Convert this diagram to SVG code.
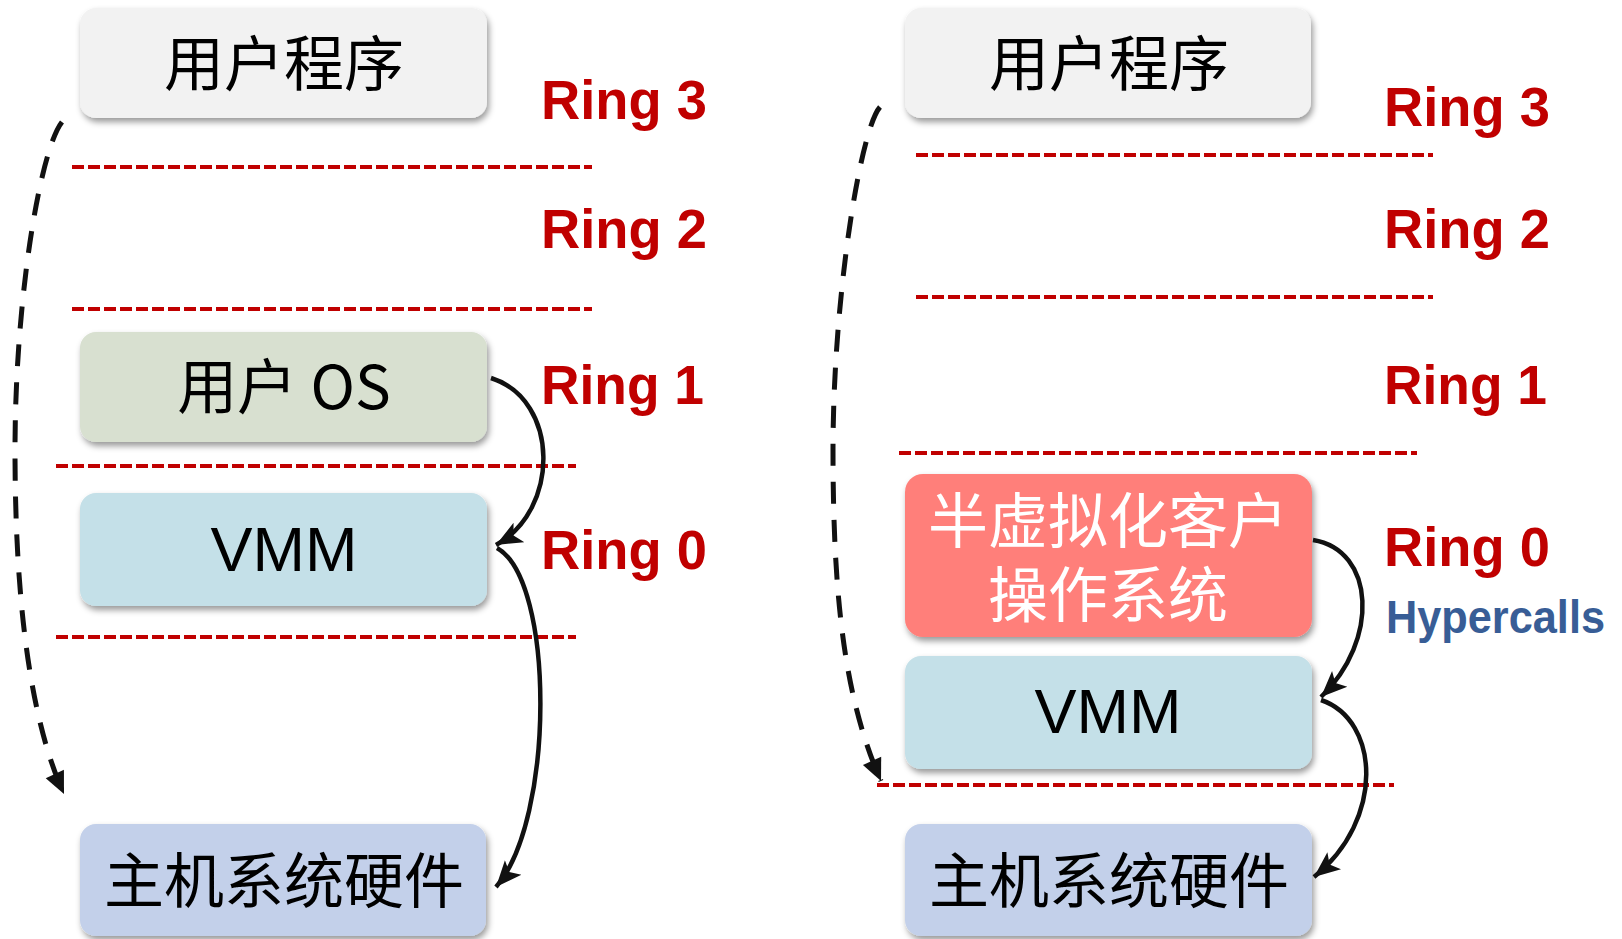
<svg xmlns="http://www.w3.org/2000/svg" width="1622" height="939" viewBox="0 0 1622 939">
<defs>
<style>
.box{stroke:none;filter:url(#sh)}
.cn{font-family:"Noto Sans CJK SC","Noto Sans",sans-serif;font-size:60px;fill:#000;text-anchor:middle}
.lat{font-family:"Liberation Sans","Noto Sans CJK SC",sans-serif;font-size:63px;fill:#000;text-anchor:middle}
.ring{font-family:"Liberation Sans",Arial,sans-serif;font-weight:bold;font-size:56px;fill:#C00000}
.sep{stroke:#C00000;stroke-width:4;stroke-dasharray:12 4;fill:none}
.arc{stroke:#111;stroke-width:4.5;fill:none;marker-end:url(#ah)}
.dash{stroke:#111;stroke-width:5;fill:none;stroke-dasharray:22 16;marker-end:url(#ah2)}
</style>
<filter id="sh" x="-10%" y="-10%" width="125%" height="135%">
<feDropShadow dx="2" dy="4" stdDeviation="3" flood-color="#000" flood-opacity="0.4"/>
</filter>
<marker id="ah" markerUnits="userSpaceOnUse" markerWidth="28" markerHeight="24" viewBox="0 0 28 24" refX="26" refY="12" orient="auto">
<path d="M0,1 L26,12 L0,23 L6,12 Z" fill="#111"/>
</marker>
<marker id="ah2" markerUnits="userSpaceOnUse" markerWidth="26" markerHeight="22" viewBox="0 0 26 22" refX="24" refY="11" orient="auto">
<path d="M2,1 L24,11 L2,21 Z" fill="#111"/>
</marker>
</defs>
<rect width="1622" height="939" fill="#fff"/>

<g id="separators">
<line class="sep" x1="72" y1="167" x2="592" y2="167"/>
<line class="sep" x1="72" y1="309" x2="592" y2="309"/>
<line class="sep" x1="56" y1="466" x2="576" y2="466"/>
<line class="sep" x1="56" y1="637" x2="576" y2="637"/>
<line class="sep" x1="916" y1="155" x2="1433" y2="155"/>
<line class="sep" x1="916" y1="297" x2="1433" y2="297"/>
<line class="sep" x1="899" y1="453" x2="1417" y2="453"/>
<line class="sep" x1="877" y1="785" x2="1394" y2="785"/>
</g>

<g id="rings">
<text class="ring" x="541" y="119" textLength="166" lengthAdjust="spacingAndGlyphs">Ring 3</text>
<text class="ring" x="541" y="248" textLength="166" lengthAdjust="spacingAndGlyphs">Ring 2</text>
<text class="ring" x="541" y="404" textLength="163" lengthAdjust="spacingAndGlyphs">Ring 1</text>
<text class="ring" x="541" y="569" textLength="166" lengthAdjust="spacingAndGlyphs">Ring 0</text>
<text class="ring" x="1384" y="126" textLength="166" lengthAdjust="spacingAndGlyphs">Ring 3</text>
<text class="ring" x="1384" y="248" textLength="166" lengthAdjust="spacingAndGlyphs">Ring 2</text>
<text class="ring" x="1384" y="404" textLength="163" lengthAdjust="spacingAndGlyphs">Ring 1</text>
<text class="ring" x="1384" y="566" textLength="166" lengthAdjust="spacingAndGlyphs">Ring 0</text>
<text x="1386" y="633" font-family="Liberation Sans,Arial,sans-serif" font-weight="bold" font-size="46" fill="#385D96" textLength="219" lengthAdjust="spacingAndGlyphs">Hypercalls</text>
</g>

<g id="left-app">
<rect class="box" x="80" y="8" width="407" height="110" rx="16" fill="#F2F2F2"/>
<text class="cn" x="284" y="86">用户程序</text>
</g>
<g id="left-guestos">
<rect class="box" x="80" y="332" width="407" height="110" rx="16" fill="#D8E0D0"/>
<text class="cn" x="284" y="409">用户 OS</text>
</g>
<g id="left-vmm">
<rect class="box" x="80" y="493" width="407" height="113" rx="16" fill="#C4E0E8"/>
<text class="lat" x="284" y="571">VMM</text>
</g>
<g id="left-hw">
<rect class="box" x="80" y="824" width="406" height="112" rx="16" fill="#C3D0EA"/>
<text class="cn" x="284" y="903">主机系统硬件</text>
</g>

<g id="right-app">
<rect class="box" x="905" y="8" width="406" height="110" rx="16" fill="#F2F2F2"/>
<text class="cn" x="1109" y="86">用户程序</text>
</g>
<g id="right-paraos">
<rect class="box" x="905" y="474" width="407" height="163" rx="18" fill="#FF7F7A"/>
<text class="cn" style="fill:#fff"><tspan x="1108" y="543">半虚拟化客户</tspan><tspan x="1108" y="617">操作系统</tspan></text>
</g>
<g id="right-vmm">
<rect class="box" x="905" y="656" width="407" height="113" rx="16" fill="#C4E0E8"/>
<text class="lat" x="1108" y="733">VMM</text>
</g>
<g id="right-hw">
<rect class="box" x="905" y="824" width="407" height="112" rx="16" fill="#C3D0EA"/>
<text class="cn" x="1109" y="903">主机系统硬件</text>
</g>

<g id="connectors">
<path class="arc" d="M491,378 C560,400 560,510 496,545"/>
<path class="arc" d="M497,548 C555,580 555,820 496,887"/>
<path class="dash" d="M62,122 C40,150 15,300 15,450 C15,600 30,720 64,794"/>
<path class="arc" d="M1313,540 C1375,550 1380,640 1321,697"/>
<path class="arc" d="M1321,700 C1380,720 1385,820 1314,877"/>
<path class="dash" d="M880,107 C860,130 833,300 833,450 C833,600 845,700 881,781"/>
</g>
</svg>
